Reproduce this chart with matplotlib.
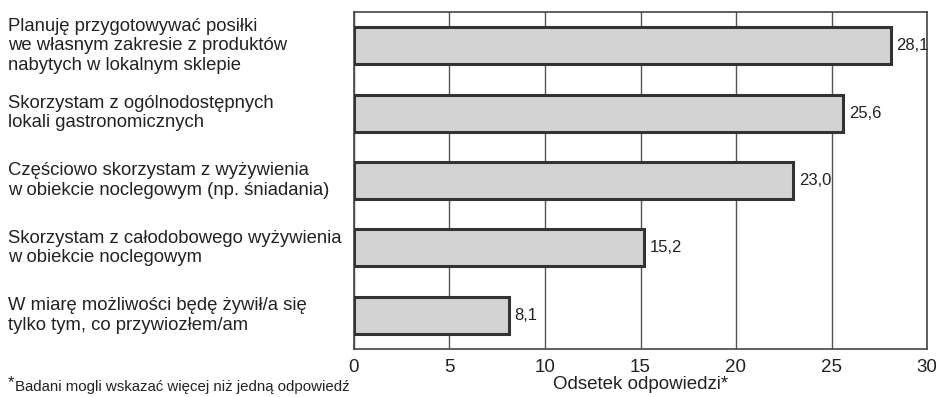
import matplotlib
matplotlib.use('Agg')
import matplotlib.pyplot as plt

plt.rcParams['font.family'] = ['Liberation Sans', 'DejaVu Sans']

# Survey answers, top to bottom
categories = [
    "Planuję przygotowywać posiłki\nwe własnym zakresie z produktów\nnabytych w lokalnym sklepie",
    "Skorzystam z ogólnodostępnych\nlokali gastronomicznych",
    "Częściowo skorzystam z wyżywienia\nw obiekcie noclegowym (np. śniadania)",
    "Skorzystam z całodobowego wyżywienia\nw obiekcie noclegowym",
    "W miarę możliwości będę żywił/a się\ntylko tym, co przywiozłem/am",
]
values = [28.1, 25.6, 23.0, 15.2, 8.1]
xticks = [0, 5, 10, 15, 20, 25, 30]

txt = '#222222'
fig = plt.figure(figsize=(9.37, 3.97), dpi=100)
ax = fig.add_axes([354/937, 1 - 349/397, (927-354)/937, (349-12)/397])

ypos = list(range(len(values)))
ax.barh(ypos, values, height=0.55, color='#d3d3d3', edgecolor='#333333',
        linewidth=2.2, zorder=3)
ax.set_ylim(len(values) - 0.5, -0.5)
ax.set_xlim(0, 30)
ax.set_xticks(xticks)
ax.set_xticklabels([str(t) for t in xticks], fontsize=13.5, color=txt)
ax.set_yticks([])
ax.tick_params(axis='x', length=0, pad=7)
ax.grid(axis='x', color='#555555', linewidth=1.0, zorder=0)
for s in ax.spines.values():
    s.set_color('#444444')
    s.set_linewidth(1.2)

for y, v in zip(ypos, values):
    ax.text(v + 0.3, y, f"{v:.1f}".replace('.', ','), va='center', ha='left',
            fontsize=12, color=txt)

# category labels on the left, aligned to the figure edge
for y, label in zip(ypos, categories):
    ax.annotate(label, xy=(0, y), xycoords=('figure fraction', 'data'),
                xytext=(8, 0), textcoords='offset pixels',
                ha='left', va='center', fontsize=13.3, color=txt,
                linespacing=1.2)

ax.set_xlabel("Odsetek odpowiedzi*", fontsize=13.5, color=txt, labelpad=0)

# footnote: raised asterisk followed by the note
fig.text(8/937, 1 - 387/397, "*", fontsize=12, color=txt, ha='left', va='baseline')
fig.text(15/937, 1 - 391/397, "Badani mogli wskazać więcej niż jedną odpowiedź",
         fontsize=10.8, color=txt, ha='left', va='baseline')

fig.savefig('out.png', dpi=100)
